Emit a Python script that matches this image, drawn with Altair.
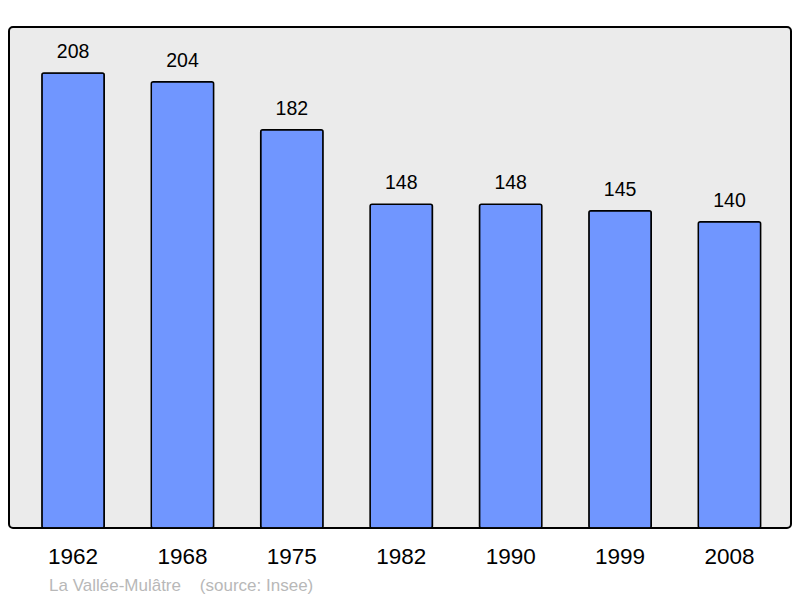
import altair as alt
import pandas as pd

years = ["1962", "1968", "1975", "1982", "1990", "1999", "2008"]
population = [208, 204, 182, 148, 148, 145, 140]

df = pd.DataFrame({"year": years, "pop": population})

FONT = "Liberation Sans"

base = alt.Chart(df).encode(
    x=alt.X("year:N", sort=years,
            scale=alt.Scale(paddingInner=0.43, paddingOuter=0.289, align=0.52),
            axis=alt.Axis(title=None, labelAngle=0, ticks=False, domain=False,
                          labelFontSize=22.5, labelFont=FONT, labelColor="black",
                          labelPadding=17)),
    y=alt.Y("pop:Q", scale=alt.Scale(domain=[0, 229], nice=False, zero=True),
            axis=None),
)

bars = base.mark_bar(color="#7096ff", stroke="black", strokeWidth=1.5,
                     cornerRadius=2)
labels = base.mark_text(baseline="alphabetic", dy=-15, fontSize=19.5,
                        font=FONT, color="black").encode(text="pop:Q")

footer = "La Vallée-Mulâtre\u00a0\u00a0\u00a0\u00a0(source: Insee)"

chart = (bars + labels).properties(
    width=782, height=501,
    padding={"left": 1, "top": 19, "right": 1, "bottom": 70},
    autosize=alt.AutoSizeParams(type="none"),
    title=alt.TitleParams(footer, orient="bottom",
                          anchor="start", dx=40, offset=10, fontSize=17,
                          font=FONT, fontWeight="normal", color="#b8b8b8"),
).configure(background="white").configure_view(
    fill="#ebebeb", stroke="black", strokeWidth=2, cornerRadius=4
)

chart.save("out.html", embed_options={"renderer": "svg", "actions": False})
